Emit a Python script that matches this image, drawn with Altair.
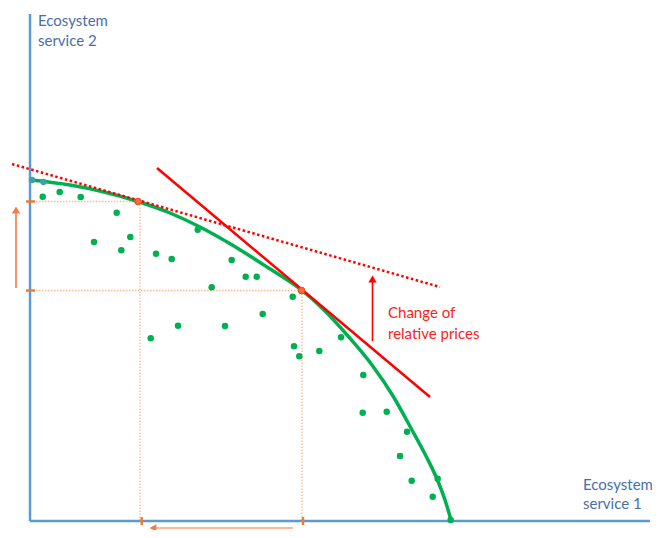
import altair as alt
import pandas as pd

# ---- data (diagram units: origin at the axes corner) ----
curve_x = [1, 40, 70, 108, 140, 170, 203, 237, 271.5, 295, 318, 342, 363, 382, 396, 407, 415, 421]
curve_y = [341, 336, 330, 319.5, 308, 294, 275.5, 254, 231, 210, 185, 156, 125, 91, 65, 42, 21, 1]

dots_x = [12.7, 29.7, 50.7, 86.7, 64, 100.3, 91.3, 126, 141.7, 167.7, 181.7, 148, 120.7,
          201.7, 215.7, 226.7, 262.7, 232.7, 195, 264, 269.3, 289.3, 311, 333.3, 332.7,
          356.7, 377, 370, 381.7, 407.7, 402.7, 420.7]
dots_y = [324.3, 329, 324, 308.3, 279, 284, 270.7, 267.3, 262, 291.3, 233.8, 195.3, 182.7,
          261, 244.3, 244.3, 224.3, 207, 195, 174.7, 164.7, 170, 183.7, 146, 108.3,
          109.3, 89.3, 65, 40.3, 42.3, 24.3, 1]

edge_x = [2, 13.5]
edge_y = [341, 339]

tangent_x = [108, 271.5]
tangent_y = [319.5, 230.5]

# price lines (start/end)
price_new = {"x": 127, "y": 353, "x2": 400, "y2": 124}
price_old = {"x": -18, "y": 357, "x2": 410, "y2": 234}

# guide lines from tangent points to the axes
guides = pd.DataFrame({
    "x": [0, 110, 0, 272],
    "y": [319.5, 319.5, 230.5, 230.5],
    "x2": [110, 110, 272, 272],
    "y2": [319.5, 0, 230.5, 0],
})
ticks = pd.DataFrame({
    "x": [-4, -4, 111.7, 273],
    "y": [319.5, 230.5, 4, 4],
    "x2": [5, 5, 111.7, 273],
    "y2": [319.5, 230.5, -4, -4],
})

axes_lines = pd.DataFrame({
    "x": [0, 0], "y": [0, 507], "x2": [620, 0], "y2": [0, 0],
})

texts = pd.DataFrame({
    "label": ["Ecosystem", "service 2", "Ecosystem", "service 1", "Change of", "relative prices"],
    "x": [8, 8, 553, 553, 358, 358],
    "y": [495, 475, 31, 12, 203, 182],
    "kind": ["axis", "axis", "axis", "axis", "price", "price"],
})

xs = alt.Scale(domain=[-22, 622], nice=False, zero=False)
ys = alt.Scale(domain=[-9, 513], nice=False, zero=False)


def X(f="x"):
    return alt.X(f, type="quantitative", scale=xs, axis=None)


def Y(f="y"):
    return alt.Y(f, type="quantitative", scale=ys, axis=None)


def seg(df, **kw):
    return alt.Chart(pd.DataFrame(df)).mark_rule(**kw).encode(
        x=X("x"), y=Y("y"), x2="x2", y2="y2")


BLUE = "#5b9bd5"
GREEN = "#00b050"
RED = "#ff0000"
ORANGE = "#f47c48"

axes = seg(axes_lines, color=BLUE, strokeWidth=2.5)

guide = seg(guides, color="#f8b894", strokeWidth=1.3, strokeDash=[1.5, 1.5])
tick = seg(ticks, color="#ed7d31", strokeWidth=2.5)

curve = alt.Chart(pd.DataFrame({"x": curve_x, "y": curve_y})).mark_line(
    color=GREEN, strokeWidth=3.5, interpolate="monotone").encode(x=X(), y=Y())

dots = alt.Chart(pd.DataFrame({"x": dots_x, "y": dots_y})).mark_circle(
    color=GREEN, size=42, opacity=1).encode(x=X(), y=Y())
edge = alt.Chart(pd.DataFrame({"x": edge_x, "y": edge_y})).mark_circle(
    color="#3f9fa8", size=40, opacity=1).encode(x=X(), y=Y())

line_old = seg([price_old], color=RED, strokeWidth=2.5, strokeDash=[2.5, 2.5])
line_new = seg([price_new], color=RED, strokeWidth=2.5)

tang = alt.Chart(pd.DataFrame({"x": tangent_x, "y": tangent_y})).mark_point(
    shape="circle", filled=True, fill="#f86a3a", stroke="#e04a20", strokeWidth=1,
    size=45, opacity=1).encode(x=X(), y=Y())

# arrows
arrow_shafts = pd.DataFrame({
    "x": [-14, 342.5, 263], "y": [233, 180, -7],
    "x2": [-14, 342.5, 125], "y2": [310, 240, -7],
    "c": [ORANGE, RED, "#f8a47c"],
})
shafts = alt.Chart(arrow_shafts).mark_rule(strokeWidth=1.6).encode(
    x=X("x"), y=Y("y"), x2="x2", y2="y2", color=alt.Color("c:N", scale=None))

heads_up = alt.Chart(pd.DataFrame({
    "x": [-14, 342.5], "y": [311, 242], "c": [ORANGE, RED]})).mark_point(
    shape="triangle-up", filled=True, size=70, opacity=1).encode(
    x=X(), y=Y(), color=alt.Color("c:N", scale=None))
head_left = alt.Chart(pd.DataFrame({"x": [123], "y": [-7]})).mark_point(
    shape="triangle-left", filled=True, size=60, opacity=1, color=ORANGE).encode(
    x=X(), y=Y())

axis_text = alt.Chart(texts[texts.kind == "axis"]).mark_text(
    align="left", baseline="alphabetic", font="Lato", fontSize=15,
    color="#4a6ea9").encode(x=X(), y=Y(), text="label")
price_text = alt.Chart(texts[texts.kind == "price"]).mark_text(
    align="left", baseline="alphabetic", font="Lato", fontSize=15,
    color="#ff2020").encode(x=X(), y=Y(), text="label")

chart = alt.layer(
    guide, axes, tick, curve, edge, dots, line_old, line_new, tang,
    shafts, heads_up, head_left, axis_text, price_text,
).properties(
    width=644, height=522, padding=0, autosize="none", background="white"
).configure_view(stroke=None)

chart.save("out.html", embed_options={"renderer": "svg", "actions": False})
